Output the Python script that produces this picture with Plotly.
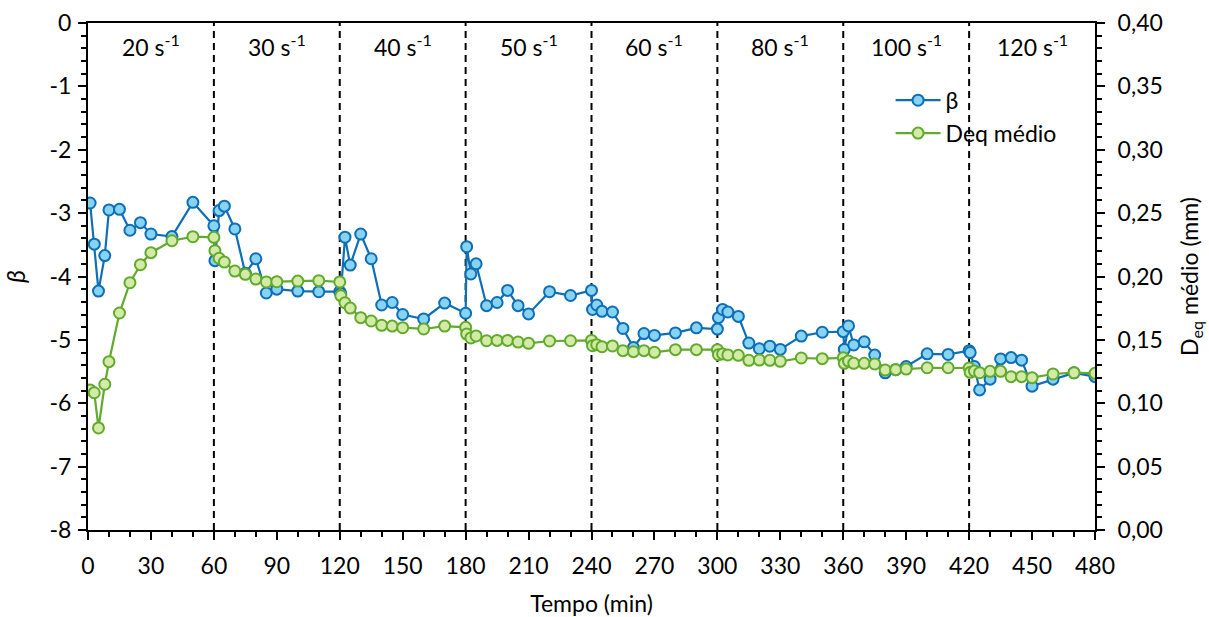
import plotly.graph_objects as go

# Tempo de ensaio (min) – comum às duas séries
tempo = [1, 3, 5, 8, 10, 15, 20, 25, 30, 40, 50, 60,
         60.5, 62.5, 65, 70, 75, 80, 85, 90, 100, 110, 120,
         120.5, 122.5, 125, 130, 135, 140, 145, 150, 160, 170, 180,
         180.5, 182.5, 185, 190, 195, 200, 205, 210, 220, 230, 240,
         240.5, 242.5, 245, 250, 255, 260, 265, 270, 280, 290, 300,
         300.5, 302.5, 305, 310, 315, 320, 325, 330, 340, 350, 360,
         360.5, 362.5, 365, 370, 375, 380, 385, 390, 400, 410, 420,
         420.5, 422.5, 425, 430, 435, 440, 445, 450, 460, 470, 480]

beta = [-2.84, -3.49, -4.23, -3.67, -2.95, -2.94, -3.27, -3.15, -3.33, -3.37, -2.83, -3.20,
        -3.75, -2.96, -2.89, -3.25, -3.95, -3.72, -4.26, -4.20, -4.23, -4.24, -4.24,
        -4.27, -3.38, -3.82, -3.33, -3.72, -4.45, -4.41, -4.60, -4.67, -4.42, -4.58,
        -3.53, -3.96, -3.80, -4.46, -4.41, -4.22, -4.46, -4.59, -4.24, -4.30, -4.22,
        -4.52, -4.45, -4.55, -4.56, -4.82, -5.12, -4.90, -4.93, -4.89, -4.81, -4.83,
        -4.65, -4.52, -4.56, -4.63, -5.05, -5.14, -5.10, -5.15, -4.94, -4.88, -4.87,
        -5.15, -4.78, -5.08, -5.03, -5.24, -5.52, -5.47, -5.42, -5.22, -5.23, -5.17,
        -5.20, -5.42, -5.79, -5.62, -5.30, -5.28, -5.32, -5.73, -5.62, -5.52, -5.58]

deq_medio = [0.1105, 0.1083, 0.0805, 0.1150, 0.1328, 0.1712, 0.1951, 0.2093, 0.2188, 0.2282, 0.2314, 0.2309,
             0.2204, 0.2144, 0.2114, 0.2043, 0.2017, 0.1980, 0.1957, 0.1959, 0.1964, 0.1967, 0.1957,
             0.1849, 0.1793, 0.1751, 0.1675, 0.1649, 0.1615, 0.1609, 0.1596, 0.1586, 0.1609, 0.1599,
             0.1546, 0.1515, 0.1531, 0.1493, 0.1496, 0.1496, 0.1483, 0.1473, 0.1491, 0.1493, 0.1496,
             0.1454, 0.1462, 0.1446, 0.1452, 0.1415, 0.1407, 0.1415, 0.1402, 0.1423, 0.1423, 0.1423,
             0.1383, 0.1389, 0.1381, 0.1378, 0.1339, 0.1341, 0.1339, 0.1331, 0.1357, 0.1352, 0.1358,
             0.1315, 0.1333, 0.1315, 0.1315, 0.1310, 0.1262, 0.1265, 0.1270, 0.1280, 0.1280, 0.1278,
             0.1244, 0.1254, 0.1241, 0.1252, 0.1252, 0.1210, 0.1210, 0.1202, 0.1231, 0.1241, 0.1236]

# Taxas de cisalhamento aplicadas em cada etapa
etapas_limites = [0, 60, 120, 180, 240, 300, 360, 420, 480]
etapas_rotulos = ["20 s<sup>-1</sup>", "30 s<sup>-1</sup>", "40 s<sup>-1</sup>", "50 s<sup>-1</sup>",
                  "60 s<sup>-1</sup>", "80 s<sup>-1</sup>", "100 s<sup>-1</sup>", "120 s<sup>-1</sup>"]

beta_ticks = [0, -1, -2, -3, -4, -5, -6, -7, -8]
beta_tick_labels = ["0", "-1", "-2", "-3", "-4", "-5", "-6", "-7", "-8"]

FONT = "Lato"
FS = 23
AZUL, AZUL_CLARO = "#0E6EB6", "#86D3F2"
VERDE, VERDE_CLARO = "#62AA2E", "#D3EBA6"

fig = go.Figure()
fig.add_trace(go.Scatter(
    x=tempo, y=beta, name="β", mode="lines+markers",
    line=dict(color=AZUL, width=2.2),
    marker=dict(size=11, color=AZUL_CLARO, line=dict(color=AZUL, width=2)),
    yaxis="y"))
fig.add_trace(go.Scatter(
    x=tempo, y=deq_medio, name="Deq médio", mode="lines+markers",
    line=dict(color=VERDE, width=2.2),
    marker=dict(size=11, color=VERDE_CLARO, line=dict(color=VERDE, width=2)),
    yaxis="y2"))

# Linhas tracejadas separando as etapas
for t in etapas_limites[1:-1]:
    fig.add_shape(type="line", xref="x", yref="y", x0=t, x1=t, y0=-8, y1=0,
                  line=dict(color="black", width=2, dash="7px,5px"), layer="below")

# Rótulos das etapas
for i, rot in enumerate(etapas_rotulos):
    centro = (etapas_limites[i] + etapas_limites[i + 1]) / 2
    fig.add_annotation(x=centro, y=-0.36, xref="x", yref="y", text=rot, showarrow=False,
                       font=dict(family=FONT, size=FS, color="black"))

eixo = dict(showgrid=False, zeroline=False, showline=True, linecolor="black", linewidth=2,
            ticks="outside", tickcolor="black", tickwidth=2, ticklen=8, automargin=False,
            tickfont=dict(family=FONT, size=FS, color="black"))

fig.update_layout(
    width=1209, height=617,
    margin=dict(l=88, r=114, t=23, b=87),
    paper_bgcolor="white", plot_bgcolor="white",
    separators=",.",
    font=dict(family=FONT, size=FS, color="black"),
    xaxis=dict(**eixo, range=[0, 480], dtick=30, tick0=0, mirror=True, ticklabelstandoff=6,
               minor=dict(ticks="outside", dtick=10, ticklen=5, tickwidth=2, tickcolor="black"),
               title=dict(text="Tempo (min)", font=dict(family=FONT, size=FS), standoff=18)),
    yaxis=dict(**eixo, range=[-8, 0], tickvals=beta_ticks, ticktext=beta_tick_labels,
               ticklabelstandoff=2,
               minor=dict(ticks="outside", dtick=0.2, ticklen=5, tickwidth=2, tickcolor="black"),
               title=dict(text="<i>β</i>", font=dict(family=FONT, size=25), standoff=18)),
    yaxis2=dict(**eixo, range=[0, 0.4], dtick=0.05, tick0=0, tickformat=".2f",
                overlaying="y", side="right", ticklabelstandoff=8,
                minor=dict(ticks="outside", dtick=0.01, ticklen=5, tickwidth=2, tickcolor="black"),
                title=dict(text="D<sub>eq</sub> médio (mm)", font=dict(family=FONT, size=FS),
                           standoff=20)),
    legend=dict(x=0.797, y=0.89, xanchor="left", yanchor="top",
                bgcolor="rgba(0,0,0,0)", font=dict(family=FONT, size=FS),
                itemwidth=45, tracegroupgap=4),
    showlegend=True,
)

fig.write_html("out.html")
